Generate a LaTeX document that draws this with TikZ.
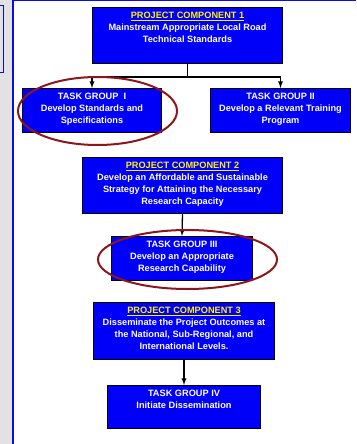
\documentclass[tikz,border=0pt]{standalone}
\usepackage{fontspec}
\setmainfont{Liberation Sans}
\usetikzlibrary{positioning,arrows,calc}

\definecolor{boxblue}{RGB}{0,0,250}
\definecolor{ringred}{RGB}{140,22,28}
\definecolor{stripgray}{RGB}{226,226,226}
\definecolor{edgeblue}{RGB}{10,10,245}

\newcommand{\head}[1]{\textcolor{yellow}{\underline{#1}}}
\newcommand{\boxtext}[3]{\parbox[c][#2][t]{#1}{\centering\vspace*{4.5pt}#3}}

\begin{document}
\begin{tikzpicture}[>=latex, x=1pt, y=-1pt,
	taskbox/.style={draw=black, line width=1.4pt, fill=boxblue, inner sep=0pt,
		text=white, font=\fontsize{9.2}{11.8}\selectfont\bfseries},
	ring/.style={draw=ringred, line width=2pt},
	link/.style={->, line width=1.3pt}]
	\useasboundingbox (0,0) rectangle (356,444);
	% page frame
	\fill[stripgray] (0,0) rectangle (12,444);
	\draw[edgeblue, line width=1.5pt] (12.75,444) -- (12.75,0.75) -- (356,0.75);
	\draw[edgeblue, line width=1pt] (0,5.5) -- (3,5.5) -- (3,72.5) -- (0,72.5);

	\node[taskbox] (PC1) at (187.5,35.5) 
		{\boxtext{189.6pt}{55.6pt}{\head{PROJECT COMPONENT 1}\\
		Mainstream Appropriate Local Road\\ Technical Standards}};
	\node[taskbox] (TG1) at (92,110.5) 
		{\boxtext{138.6pt}{43.6pt}{TASK GROUP\ \ I\\
		Develop Standards and\\ Specifications}};
	\node[taskbox] (TG2) at (280.5,110.5) 
		{\boxtext{139.6pt}{43.6pt}{TASK GROUP II\\
		Develop a Relevant Training\\ Program}};
	\node[taskbox] (PC2) at (182.5,185.5) 
		{\boxtext{199.6pt}{55.6pt}{\head{PROJECT COMPONENT 2}\\
		Develop an Affordable and Sustainable\\
		Strategy for Attaining the Necessary\\ Research Capacity}};
	\node[taskbox] (TG3) at (182,258.5) 
		{\boxtext{140.6pt}{43.6pt}{TASK GROUP III\\
		Develop an Appropriate\\ Research Capability}};
	\node[taskbox] (PC3) at (184,331) 
		{\boxtext{180.6pt}{56.6pt}{\head{PROJECT COMPONENT 3}\\
		Disseminate the Project Outcomes at\\
		the National, Sub-Regional, and\\ International Levels.}};
	\node[taskbox] (TG4) at (184,407) 
		{\boxtext{152.6pt}{42.6pt}{TASK GROUP IV\\ Initiate Dissemination}};

	\draw[link] (PC1.south) -- ++(0,13) coordinate (split) -| (TG1.north);
	\draw[link] (split) -| (TG2.north);
	\draw[link] (PC2.south) -- (TG3.north);
	\draw[link] (PC3.south) -- (TG4.north);

	% highlight rings
	\draw[ring] (97.5,111) ellipse [x radius=79.5, y radius=34];
	\draw[ring] (187.5,259.5) ellipse [x radius=89.5, y radius=29.5];
\end{tikzpicture}
\end{document}
